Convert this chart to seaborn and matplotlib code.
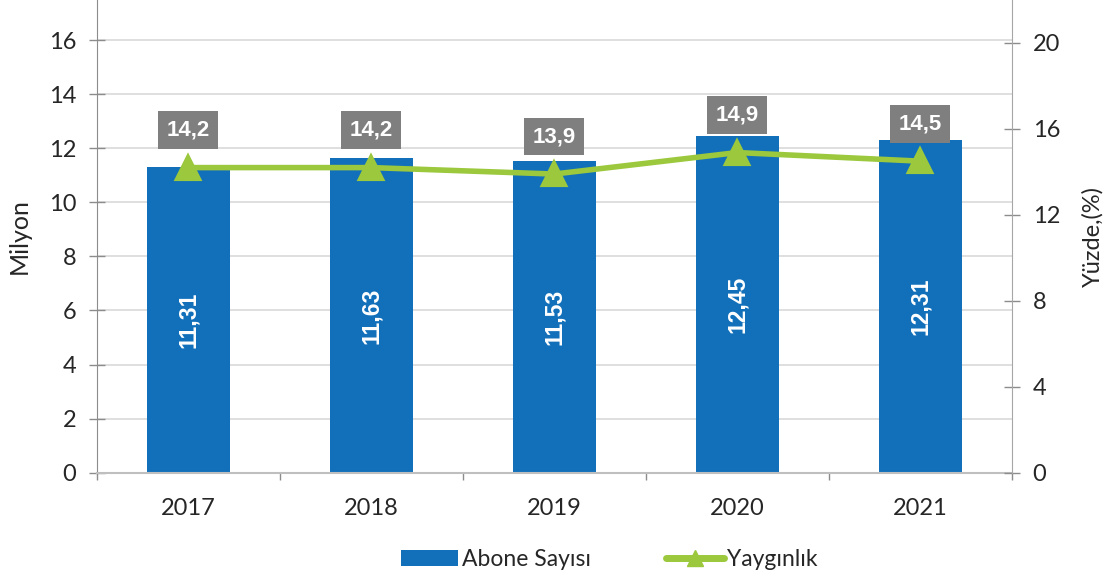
import matplotlib
matplotlib.use("Agg")
import matplotlib.pyplot as plt
import seaborn as sns
import numpy as np
from matplotlib.patches import Patch
from matplotlib.lines import Line2D
from matplotlib.ticker import MultipleLocator, FixedLocator

years = ["2017", "2018", "2019", "2020", "2021"]
subscribers = [11.31, 11.63, 11.53, 12.45, 12.31]
penetration = [14.2, 14.2, 13.9, 14.9, 14.5]
sub_labels = ["11,31", "11,63", "11,53", "12,45", "12,31"]
pen_labels = ["14,2", "14,2", "13,9", "14,9", "14,5"]

BAR = "#1270BA"
LINE = "#9BC83C"
BOX = "#7F7F7F"
AX = "#8C8C8C"

sns.set_style("white")
plt.rcParams["font.family"] = ["Lato", "DejaVu Sans"]

fig = plt.figure(figsize=(11.08, 5.82), dpi=100)
ax = fig.add_axes([0.0875, 0.1878, 0.9131 - 0.0875, 1 - 0.1878])

sns.barplot(x=years, y=subscribers, ax=ax, color=BAR, width=0.455,
            saturation=1, edgecolor="none", zorder=2)
ax.set_ylim(0, 17.48)
ax.set_xlim(-0.5, 4.5)
ax.yaxis.set_major_locator(MultipleLocator(2))
ax.grid(axis="y", color="#D9D9D9", linewidth=1.2, zorder=0)
ax.set_axisbelow(True)

ax2 = ax.twinx()
sns.pointplot(x=years, y=penetration, ax=ax2, color=LINE, markers="^",
              linestyles="-", markersize=15.5, linewidth=4, zorder=5)
ax2.set_ylim(0, 22)
ax2.set_xlim(-0.5, 4.5)
ax2.yaxis.set_major_locator(MultipleLocator(4))
ax2.set_xlabel("")

for a in (ax, ax2):
    for s in a.spines.values():
        s.set_visible(False)
ax.spines["left"].set_visible(True)
ax.spines["left"].set_color(AX)
ax.spines["bottom"].set_visible(True)
ax.spines["bottom"].set_color("#BFBFBF")
ax.spines["bottom"].set_linewidth(1.5)
ax2.spines["right"].set_visible(True)
ax2.spines["right"].set_color("#A6A6A6")

ax.tick_params(axis="y", direction="inout", length=12, width=1, color=AX,
               labelsize=17, pad=9, left=True)
ax2.tick_params(axis="y", direction="inout", length=12, width=1, color=AX,
                labelsize=17, pad=9, right=True)
ax.tick_params(axis="x", length=0, labelsize=17, pad=18)
ax.xaxis.set_minor_locator(FixedLocator(np.arange(-0.5, 5, 1)))
ax.tick_params(axis="x", which="minor", direction="out", length=5, color=AX,
               width=1, bottom=True)

ax.set_ylabel("Milyon", fontsize=18, labelpad=13)
ax2.set_ylabel("Yüzde,(%)", fontsize=17, labelpad=16)
ax.set_xlabel("")

# bar value labels
for i, (v, lab) in enumerate(zip(subscribers, sub_labels)):
    ax.text(i, v / 2, lab, rotation=90, ha="center", va="center",
            color="white", fontsize=16.5, fontweight="bold",
            family=["Liberation Sans", "DejaVu Sans"], zorder=4)

# line value labels
for i, (v, lab) in enumerate(zip(penetration, pen_labels)):
    ax2.annotate(lab, xy=(i, v), xytext=(0, 27), textcoords="offset points",
                 ha="center", va="center", color="white", fontsize=16,
                 fontweight="bold", family=["Liberation Sans", "DejaVu Sans"],
                 bbox=dict(boxstyle="square,pad=0.38", fc=BOX, ec="none"),
                 zorder=6)

handles = [Patch(facecolor=BAR, edgecolor="none", label="Abone Sayısı"),
           Line2D([0], [0], color=LINE, lw=5, marker="^", markersize=12,
                  label="Yaygınlık")]
fig.legend(handles=handles, loc="center", bbox_to_anchor=(0.55, 0.038),
           ncol=2, frameon=False, fontsize=16.5, handlelength=2.5,
           handleheight=0.7, handletextpad=0.15, columnspacing=3.3)

fig.savefig("out.png", dpi=100)
